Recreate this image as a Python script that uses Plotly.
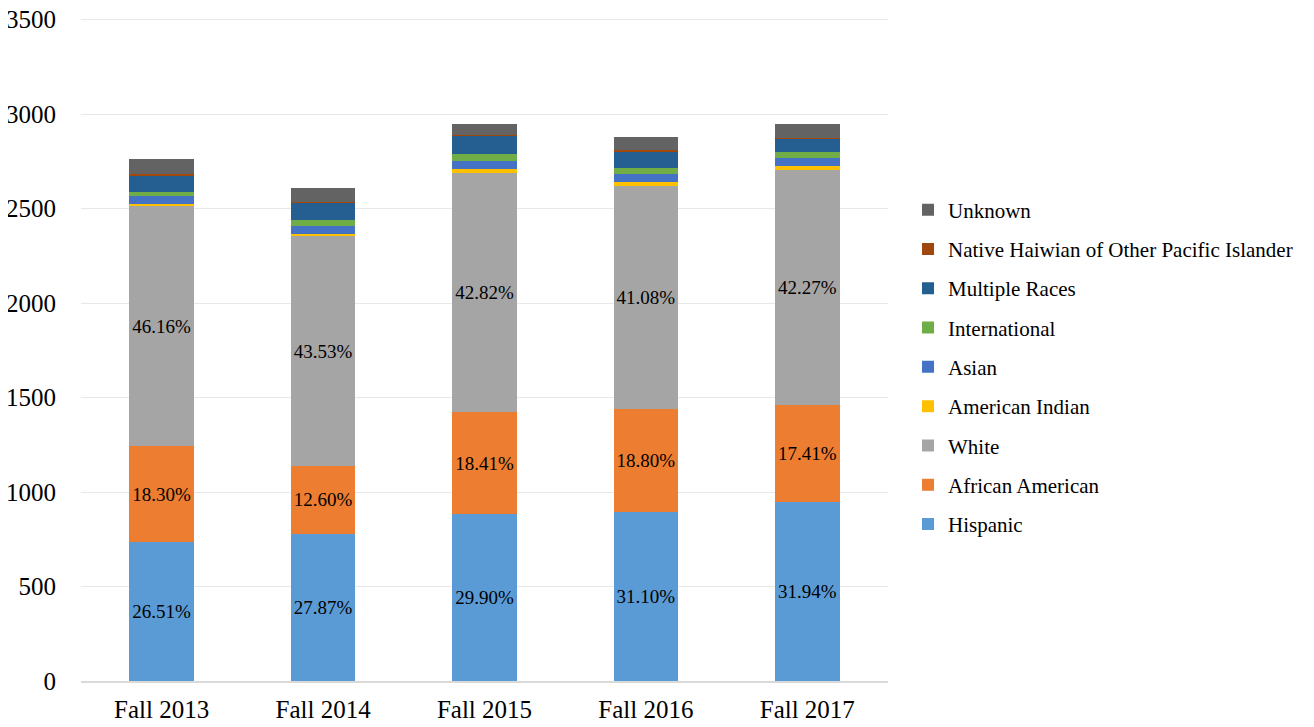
import plotly.graph_objs as go

terms = ["Fall 2013", "Fall 2014", "Fall 2015", "Fall 2016", "Fall 2017"]

hispanic = [734, 778, 882, 896, 945]
african_american = [507, 360, 542, 541, 513]
white = [1272, 1214, 1262, 1183, 1244]
american_indian = [11, 11, 21, 21, 21]
asian = [42, 42, 42, 42, 42]
international = [21, 32, 42, 32, 32]
multiple_races = [85, 95, 95, 85, 74]
native_hawaiian = [10, 2, 2, 11, 3]
unknown = [82, 74, 61, 69, 74]

hispanic_pct = ["26.51%", "27.87%", "29.90%", "31.10%", "31.94%"]
african_american_pct = ["18.30%", "12.60%", "18.41%", "18.80%", "17.41%"]
white_pct = ["46.16%", "43.53%", "42.82%", "41.08%", "42.27%"]

FONT = "Liberation Serif"

series = [
    ("Hispanic", hispanic, "#5B9BD5", hispanic_pct),
    ("African American", african_american, "#ED7D31", african_american_pct),
    ("White", white, "#A5A5A5", white_pct),
    ("American Indian", american_indian, "#FFC000", None),
    ("Asian", asian, "#4472C4", None),
    ("International", international, "#70AD47", None),
    ("Multiple Races", multiple_races, "#255E91", None),
    ("Native Haiwian of Other Pacific Islander", native_hawaiian, "#9E480E", None),
    ("Unknown", unknown, "#636363", None),
]

fig = go.Figure()
for i, (name, vals, color, labels) in enumerate(series):
    fig.add_trace(go.Bar(
        x=terms, y=vals, name=name, legendgroup=name,
        legendrank=len(series) - i,
        marker=dict(color=color, line=dict(width=0)),
        text=labels,
        textposition="inside" if labels else "none",
        insidetextanchor="middle",
        textangle=0,
        textfont=dict(family=FONT, size=19, color="black"),
    ))

# page body has an 8px margin, so the figure is a bit smaller than the window
fig.update_layout(
    barmode="stack",
    bargap=0.6,
    width=1298, height=711,
    margin=dict(l=73, r=418, t=10, b=38, autoexpand=False),
    plot_bgcolor="white",
    paper_bgcolor="white",
    font=dict(family=FONT, color="black"),
    uniformtext=dict(mode="show", minsize=19),
    legend=dict(
        traceorder="grouped",
        tracegroupgap=9,
        x=1.0248, y=0.4736, yanchor="middle", xanchor="left",
        font=dict(family=FONT, size=21, color="black"),
        itemwidth=30,
    ),
)

fig.update_yaxes(
    range=[0, 3508], dtick=500,
    showgrid=True, gridcolor="#E8E8E8", gridwidth=1,
    zeroline=False, showline=False,
    tickfont=dict(family=FONT, size=25, color="black"),
    ticklabelstandoff=24,
    ticklabeloverflow="allow",
    automargin=False,
)
fig.update_xaxes(
    showline=True, linecolor="#D9D9D9", linewidth=1.5,
    tickfont=dict(family=FONT, size=25, color="black"),
    ticklabelstandoff=5,
    ticklabeloverflow="allow",
    automargin=False,
)

fig.write_html("out.html")
